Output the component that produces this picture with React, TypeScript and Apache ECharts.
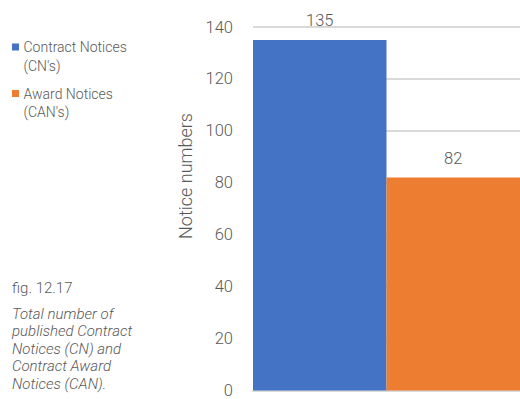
import React, { useEffect, useRef } from "react";
import * as echarts from "echarts";

const categories = ["Contract Notices (CN's)", "Award Notices (CAN's)"];
const legendLines = [["Contract Notices", "(CN's)"], ["Award Notices", "(CAN's)"]];
const values = [135, 82];
const colors = ["#4472C4", "#ED7D31"];
const yTicks = { min: 0, max: 140, interval: 20 };
const yName = "Notice numbers";
const figLabel = "fig. 12.17";
const captionLines = [
  "Total number of",
  "published Contract",
  "Notices (CN) and",
  "Contract Award",
  "Notices (CAN).",
];

const FONT = "Roboto";
const GRAY = "#595959";

export default function App() {
  const ref = useRef<HTMLDivElement>(null);
  useEffect(() => {
    if (!ref.current) return;
    const chart = echarts.init(ref.current, undefined, { renderer: "svg" });
    const graphics: any[] = [];
    legendLines.forEach((lines, i) => {
      const y0 = 43.5 + i * 46.5;
      graphics.push({
        type: "rect",
        left: 12,
        top: y0,
        shape: { width: 7, height: 7 },
        style: { fill: colors[i] },
      });
      graphics.push({
        type: "text",
        left: 23.5,
        top: y0 - 5.5,
        style: {
          text: lines.join("\n"),
          fontFamily: FONT,
          fontWeight: 300,
          fontSize: 14,
          lineHeight: 18.5,
          fill: GRAY,
        },
      });
    });
    graphics.push({
      type: "text",
      x: 185,
      y: 176,
      rotation: Math.PI / 2,
      style: {
        text: yName,
        align: "center",
        verticalAlign: "middle",
        fontFamily: FONT,
        fontWeight: 300,
        fontSize: 18,
        fill: GRAY,
      },
    });
    graphics.push({
      type: "text",
      left: 12,
      top: 279,
      style: {
        text: figLabel,
        fontFamily: FONT,
        fontWeight: 300,
        fontSize: 15,
        lineHeight: 18,
        fill: GRAY,
      },
    });
    graphics.push({
      type: "text",
      left: 12,
      top: 305,
      style: {
        text: captionLines.join("\n"),
        fontFamily: FONT,
        fontWeight: 300,
        fontStyle: "italic",
        fontSize: 15,
        lineHeight: 17.5,
        fill: GRAY,
      },
    });

    chart.setOption({
      animation: false,
      grid: { left: 253, top: 27, width: 270, height: 368, containLabel: false },
      xAxis: {
        type: "category",
        data: categories,
        axisLine: { show: true, lineStyle: { color: "#D9D9D9", width: 2 } },
        axisTick: { show: false },
        axisLabel: { show: false },
      },
      yAxis: {
        type: "value",
        min: yTicks.min,
        max: yTicks.max,
        interval: yTicks.interval,
        axisLine: { show: false },
        axisTick: { show: false },
        axisLabel: {
          fontFamily: FONT,
          fontWeight: 300,
          fontSize: 16.5,
          color: GRAY,
          margin: 20,
        },
        splitLine: { lineStyle: { color: "#D9D9D9", width: 2 } },
      },
      series: [
        {
          type: "bar",
          data: values.map((v, i) => ({ value: v, itemStyle: { color: colors[i] } })),
          barCategoryGap: "0%",
          label: {
            show: true,
            position: "top",
            distance: 11,
            fontFamily: FONT,
            fontWeight: 300,
            fontSize: 16.5,
            color: GRAY,
          },
        },
      ],
      graphic: graphics,
    });
    return () => chart.dispose();
  }, []);
  return (
    <div
      ref={ref}
      style={{ position: "fixed", left: 0, top: 0, width: 520, height: 399, background: "#fff" }}
    />
  );
}
